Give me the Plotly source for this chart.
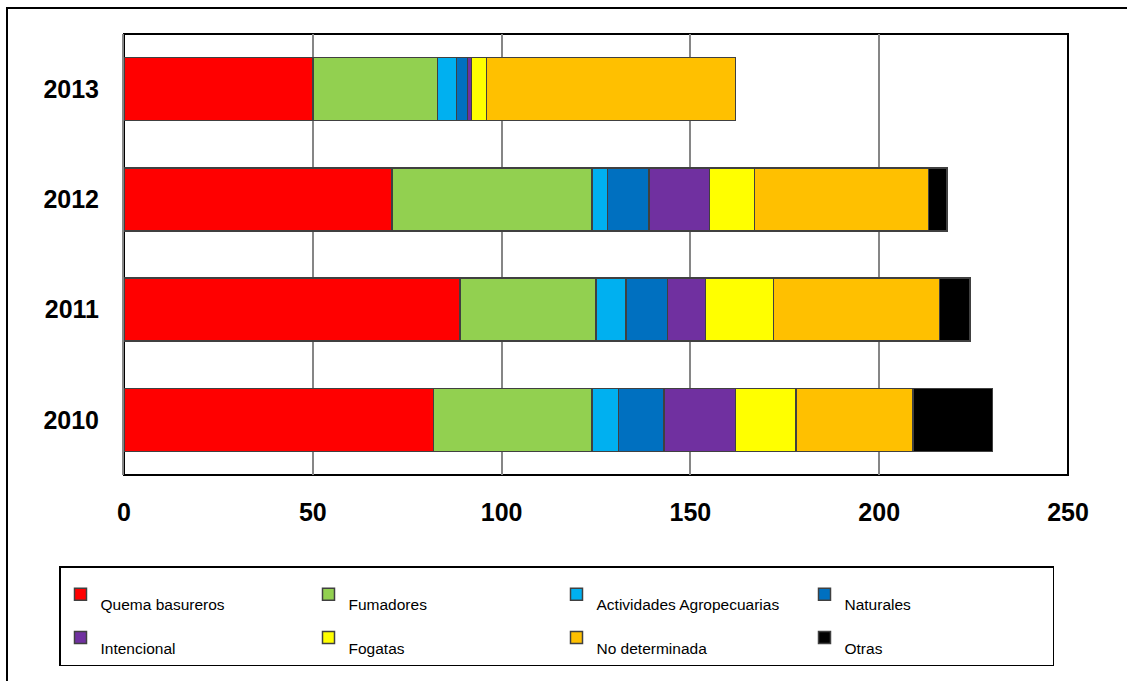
import plotly.graph_objects as go

# Forest fire causes per year (number of fires)
years = ["2010", "2011", "2012", "2013"]
causes = ["Quema basureros", "Fumadores", "Actividades Agropecuarias", "Naturales",
          "Intencional", "Fogatas", "No determinada", "Otras"]
colors = ["#FF0000", "#92D050", "#00B0F0", "#0070C0",
          "#7030A0", "#FFFF00", "#FFC000", "#000000"]

quema_basureros = [82, 89, 71, 50]
fumadores = [42, 36, 53, 33]
actividades_agropecuarias = [7, 8, 4, 5]
naturales = [12, 11, 11, 3]
intencional = [19, 10, 16, 1]
fogatas = [16, 18, 12, 4]
no_determinada = [31, 44, 46, 66]
otras = [21, 8, 5, 0]

series = [quema_basureros, fumadores, actividades_agropecuarias, naturales,
          intencional, fogatas, no_determinada, otras]

fig = go.Figure()
for name, vals, col in zip(causes, series, colors):
    fig.add_trace(go.Bar(
        y=years, x=vals, orientation="h",
        # legend label sits one line lower than its colour key
        name=" <br>" + name,
        hovertemplate=name + ": %{x}<extra>%{y}</extra>",
        marker=dict(color=col, line=dict(color="#404040", width=1.5)),
    ))

W, H = 1127, 681
L, R, T, B = 124, 59, 34, 206
pw, ph = W - L - R, H - T - B

def px_x(p):
    return (p - L) / pw

def px_y(p):
    return (H - B - p) / ph

tick_font = dict(size=25, family="Arial, Liberation Sans, sans-serif", weight="bold")

fig.update_layout(
    width=W, height=H,
    margin=dict(l=L, r=R, t=T, b=B, pad=0, autoexpand=False),
    barmode="stack", bargap=0.43,
    paper_bgcolor="white", plot_bgcolor="white",
    font=dict(family="Arial, Liberation Sans, sans-serif", color="black"),
    xaxis=dict(
        range=[0, 250], tickvals=[0, 50, 100, 150, 200, 250],
        showgrid=True, gridcolor="#868686", gridwidth=1.5,
        zeroline=False, showline=False,
        tickfont=tick_font, ticks="", ticklabelstandoff=20,
    ),
    yaxis=dict(
        showgrid=False, zeroline=False,
        showline=True, linecolor="#868686", linewidth=2,
        tickfont=tick_font, ticks="", ticklabelstandoff=18,
    ),
    showlegend=True,
    legend=dict(
        orientation="h", traceorder="normal", valign="middle",
        x=px_x(59), y=px_y(566), xanchor="left", yanchor="top",
        bgcolor="white", bordercolor="black", borderwidth=1.5,
        entrywidth=203, entrywidthmode="pixels",
        font=dict(size=15.5, family="Arial, Liberation Sans, sans-serif"),
        tracegroupgap=0, itemwidth=30,
    ),
    shapes=[
        # plot area frame
        dict(type="rect", xref="paper", yref="paper", x0=0, x1=1, y0=0, y1=1,
             line=dict(color="black", width=2), layer="below"),
        # outer chart frame
        dict(type="rect", xref="paper", yref="paper",
             x0=px_x(7), x1=px_x(1140), y0=px_y(690), y1=px_y(8),
             line=dict(color="black", width=2)),
    ],
)

fig.write_html("out.html")
